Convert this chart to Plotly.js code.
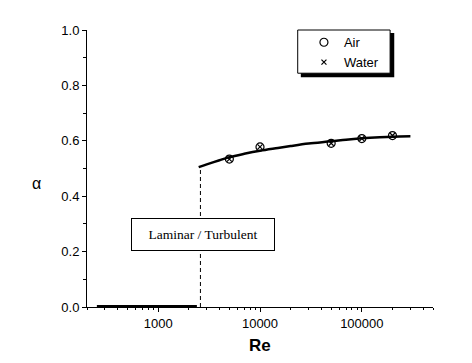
<!DOCTYPE html>
<html>
<head>
<meta charset="utf-8">
<script src="https://cdn.plot.ly/plotly-3.0.1.min.js"></script>
<style>html,body{margin:0;padding:0;background:#fff;}#chart{width:472px;height:363px;}</style>
</head>
<body>
<div id="chart"></div>
<script>
// Laminar region (alpha = 0)
const laminarRe = [250, 2400];
const laminarAlpha = [0, 0];
// Laminar / turbulent transition
const transitionRe = [2600, 2600];
const transitionAlpha = [0, 0.507];
// Turbulent correlation curve
const curveRe = [2500, 3000, 4000, 5000, 7000, 10000, 15000, 20000, 30000, 50000, 70000, 100000, 150000, 200000, 300000];
const curveAlpha = [0.505, 0.515, 0.530, 0.541, 0.553, 0.564, 0.574, 0.581, 0.590, 0.598, 0.604, 0.609, 0.613, 0.615, 0.616];
// Measurements
const airRe = [5000, 10000, 50000, 100000, 200000];
const airAlpha = [0.534, 0.578, 0.591, 0.608, 0.619];
const waterRe = [5000, 10000, 50000, 100000, 200000];
const waterAlpha = [0.534, 0.578, 0.591, 0.608, 0.619];
const xTicks = [1000, 10000, 100000];
const xTickText = ['1000', '10000', '100000'];
const yTicks = [0, 0.2, 0.4, 0.6, 0.8, 1.0];
const yTickText = ['0.0', '0.2', '0.4', '0.6', '0.8', '1.0'];
const decades = [100, 1000, 10000, 100000];

const xMinor = [];
decades.forEach(d => { for (let k = 2; k <= 9; k++) xMinor.push(d * k); });

const traces = [
  {x: laminarRe, y: laminarAlpha, mode: 'lines', line: {color: '#000', width: 4}, showlegend: false, hoverinfo: 'skip'},
  {x: transitionRe, y: transitionAlpha, mode: 'lines', line: {color: '#000', width: 1, dash: '4px,3px'}, showlegend: false, hoverinfo: 'skip'},
  {x: curveRe, y: curveAlpha, mode: 'lines', line: {color: '#000', width: 2.5, shape: 'spline'}, showlegend: false},
  {x: airRe, y: airAlpha, mode: 'markers', name: 'Air', marker: {symbol: 'circle-open', size: 8, color: '#000', line: {width: 1.2}}},
  {x: waterRe, y: waterAlpha, mode: 'markers', name: 'Water', marker: {symbol: 'x-thin-open', size: 5, color: '#000', line: {width: 1.2}}}
];

const layout = {
  width: 472, height: 363,
  margin: {l: 87, r: 39, t: 30, b: 56},
  paper_bgcolor: '#fff', plot_bgcolor: '#fff',
  font: {family: 'Liberation Sans, Arial, sans-serif', size: 13, color: '#000'},
  showlegend: true,
  legend: {x: 0.627, y: 1.0098, xanchor: 'left', yanchor: 'top', bgcolor: 'rgba(0,0,0,0)', borderwidth: 0,
           font: {size: 13, family: 'Liberation Sans, Arial, sans-serif'}, tracegroupgap: 0, itemwidth: 30},
  xaxis: {type: 'log', range: [Math.log10(200), Math.log10(500000)], tickvals: xTicks, ticktext: xTickText,
          showgrid: false, zeroline: false, showline: true, linecolor: '#000', linewidth: 1,
          ticks: 'outside', ticklen: 4, tickwidth: 1, tickcolor: '#000',
          minor: {tickmode: 'array', tickvals: xMinor, ticks: 'outside', ticklen: 2, tickwidth: 1, tickcolor: '#000', showgrid: false},
          tickfont: {size: 13}},
  yaxis: {range: [0, 1.0], tickvals: yTicks, ticktext: yTickText,
          showgrid: false, zeroline: false, showline: true, linecolor: '#000', linewidth: 1,
          ticks: 'outside', ticklen: 4, tickwidth: 1, tickcolor: '#000',
          minor: {dtick: 0.1, ticks: 'outside', ticklen: 3, tickwidth: 1, tickcolor: '#000', showgrid: false},
          tickfont: {size: 13}},
  shapes: [
    {type: 'rect', xref: 'paper', yref: 'paper', x0: 0.618, x1: 0.888, y0: 0.829, y1: 0.989, fillcolor: '#000', line: {width: 0}, layer: 'below'},
    {type: 'rect', xref: 'paper', yref: 'paper', x0: 0.609, x1: 0.876, y0: 0.844, y1: 1.0, fillcolor: '#fff', line: {color: '#000', width: 1}, layer: 'below'}
  ],
  annotations: [
    {text: 'Laminar / Turbulent', xref: 'paper', yref: 'y', x: 0.335, y: 0.262, showarrow: false,
     font: {family: 'Liberation Serif, Times New Roman, serif', size: 13.5, color: '#000'},
     bgcolor: '#fff', bordercolor: '#000', borderwidth: 1, width: 140, height: 29},
    {text: 'α', xref: 'paper', yref: 'paper', x: -0.145, y: 0.447, xanchor: 'center', yanchor: 'middle', showarrow: false, font: {size: 16}},
    {text: '<b>Re</b>', xref: 'paper', yref: 'paper', x: 0.5, y: 0, xanchor: 'center', yanchor: 'middle', yshift: -38, showarrow: false, font: {size: 17}}
  ]
};

Plotly.newPlot('chart', traces, layout, {displayModeBar: false, staticPlot: true});
</script>
</body>
</html>
